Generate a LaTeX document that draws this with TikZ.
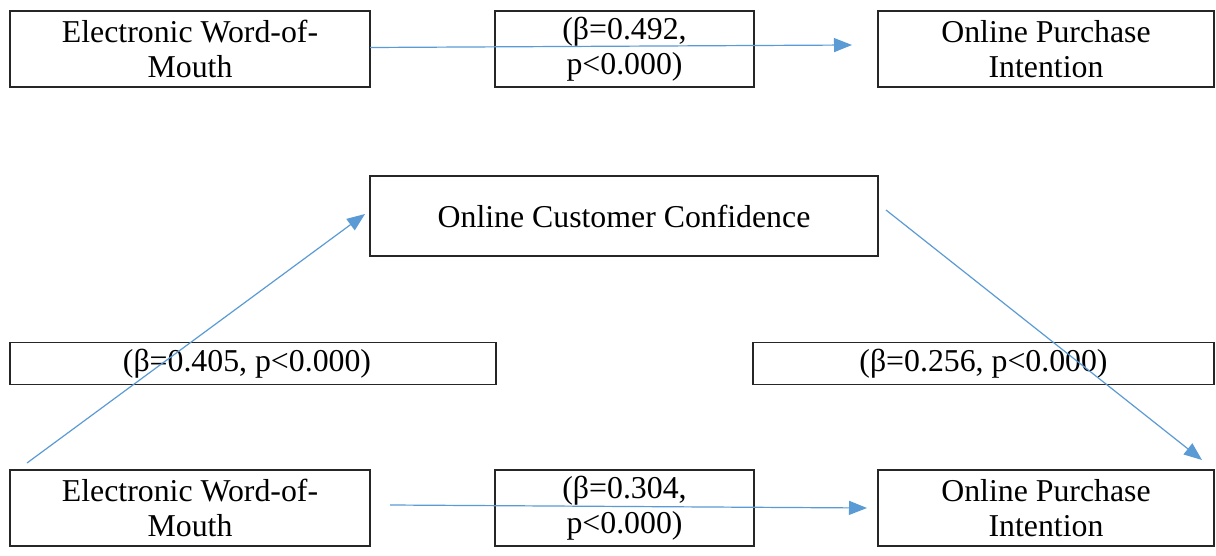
\documentclass[tikz,border=0pt]{standalone}
\usepackage{fontspec}
\setmainfont{Liberation Serif}
\usetikzlibrary{arrows.meta}
\definecolor{arrowblue}{RGB}{91,155,213}
\tikzset{
  box/.style={draw=black!85, line width=1.4pt, rectangle, inner sep=0pt, align=center,
    font=\fontsize{31.8}{35}\selectfont, text=black},
  conn/.style={draw=arrowblue, line width=1.2pt, -{Triangle[length=18pt,width=14pt]}}
}
\begin{document}
\begin{tikzpicture}[x=1pt,y=-1pt]
\fill[white] (0,0) rectangle (1216,556);
\useasboundingbox (0,0) rectangle (1216,556);
% top row
\node[box, minimum width=360pt, minimum height=76pt] (ewom1) at (190,49) {Electronic Word-of-\\Mouth};
\node[box, minimum width=259pt, minimum height=76pt] (lab1) at (624.5,49) {(β=0.492,\\p<0.000)};
\node[box, minimum width=336pt, minimum height=76pt] (opi1) at (1046,49) {Online Purchase\\Intention};
% middle
\node[box, minimum width=508pt, minimum height=80pt] (occ) at (624,216) {Online Customer Confidence};
\node[box, minimum width=486pt, minimum height=42pt] (lab2) at (253,363.5) {(β=0.405, p<0.000)\hspace*{12pt}};
\node[box, minimum width=461pt, minimum height=42pt] (lab3) at (983.5,363.5) {(β=0.256, p<0.000)};
% bottom row
\node[box, minimum width=360pt, minimum height=76pt] (ewom2) at (190,508) {Electronic Word-of-\\Mouth};
\node[box, minimum width=259pt, minimum height=76pt] (lab4) at (624.5,508) {(β=0.304,\\p<0.000)};
\node[box, minimum width=336pt, minimum height=76pt] (opi2) at (1046,508) {Online Purchase\\Intention};
% connector ends
\coordinate (t1s) at (370,47.5);
\coordinate (t1e) at (852,45);
\coordinate (d1s) at (27,463);
\coordinate (d1e) at (365,214);
\coordinate (d2s) at (886,210);
\coordinate (d2e) at (1202,460);
\coordinate (b1s) at (390,505);
\coordinate (b1e) at (867,508);
% connectors
\draw[conn] (t1s) -- (t1e);
\draw[conn] (d1s) -- (d1e);
\draw[conn] (d2s) -- (d2e);
\draw[conn] (b1s) -- (b1e);
\end{tikzpicture}
\end{document}
